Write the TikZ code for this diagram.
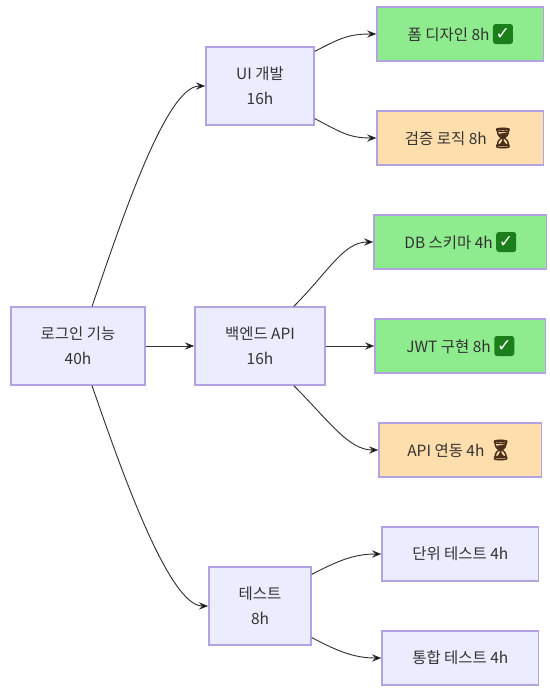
\documentclass[tikz,border=0pt]{standalone}
\usepackage{fontspec}
\setmainfont{Noto Sans CJK KR}
\newfontfamily\emojifont[FakeBold=2.5]{Noto Emoji}
\newfontfamily\checkfont{DejaVu Sans}
\usetikzlibrary{arrows.meta}
\definecolor{nodefill}{HTML}{ECECFF}
\definecolor{nodeline}{HTML}{B3A3E3}
\definecolor{donefill}{HTML}{8EEB8E}
\definecolor{waitfill}{HTML}{FFDEAD}
\definecolor{textcol}{HTML}{333333}
\definecolor{edgecol}{HTML}{333333}
\definecolor{checkgreen}{HTML}{1A7F1A}
\definecolor{sandcol}{HTML}{4A2E1A}
\newcommand{\doneicon}{\tikz[baseline=-0.8ex]\node[fill=checkgreen,rounded corners=2pt,inner sep=0pt,minimum size=15pt,text=white,font=\checkfont\fontsize{13}{13}\selectfont\bfseries]{✓};}
\newcommand{\waiticon}{\textcolor{sandcol}{\emojifont\fontsize{15}{15}\selectfont ⏳}}
\tikzset{
  x=0.75pt,y=-0.75pt,
  flowbox/.style={draw=nodeline,line width=1.2pt,fill=nodefill,text=textcol,align=center,inner sep=0pt,
    font=\fontsize{11.6}{18.2}\selectfont,anchor=center},
  donebox/.style={flowbox,fill=donefill},
  waitbox/.style={flowbox,fill=waitfill},
  link/.style={draw=edgecol,line width=0.7pt,-{Stealth[length=7pt,width=5.5pt]}}
}
\begin{document}
\begin{tikzpicture}
\useasboundingbox (0,0) rectangle (550,693);
\node[flowbox,minimum width=100.4pt,minimum height=58.2pt] (login) at (78,346) {\raisebox{1.2pt}{로그인 기능}\\\raisebox{0.6pt}{40h}};
\node[flowbox,minimum width=80.9pt,minimum height=58.2pt] (ui) at (260,86) {\raisebox{1.2pt}{UI 개발}\\\raisebox{0.6pt}{16h}};
\node[flowbox,minimum width=97.4pt,minimum height=58.2pt] (be) at (260,346) {\raisebox{1.2pt}{백엔드 API}\\\raisebox{0.6pt}{16h}};
\node[flowbox,minimum width=76.4pt,minimum height=58.2pt] (test) at (260,606) {\raisebox{1.2pt}{테스트}\\\raisebox{0.6pt}{8h}};
\node[donebox,minimum width=124.6pt,minimum height=40.2pt] (form) at (460.3,34) {폼 디자인 8h \doneicon};
\node[waitbox,minimum width=124.6pt,minimum height=40.2pt] (valid) at (460.3,138) {검증 로직 8h \waiticon};
\node[donebox,minimum width=129.2pt,minimum height=40.2pt] (db) at (460.3,242) {DB 스키마 4h \doneicon};
\node[donebox,minimum width=127.7pt,minimum height=40.2pt] (jwt) at (460.3,346) {JWT 구현 8h \doneicon};
\node[waitbox,minimum width=121.7pt,minimum height=40.2pt] (api) at (460.3,450) {API 연동 4h \waiticon};
\node[flowbox,minimum width=117.2pt,minimum height=40.2pt] (unit) at (460.3,554) {단위 테스트 4h};
\node[flowbox,minimum width=117.2pt,minimum height=40.2pt] (integ) at (460.3,658) {통합 테스트 4h};

\draw[link] ([xshift=10.5pt]login.north) .. controls +(27,-78) and +(-40,0) .. (ui.west);
\draw[link] (login.east) -- (be.west);
\draw[link] ([xshift=10.5pt]login.south) .. controls +(27,78) and +(-40,0) .. (test.west);
\draw[link] ([yshift=-3.75pt]ui.north east) .. controls +(25,-13) and +(-28,0) .. (form.west);
\draw[link] ([yshift=5.25pt]ui.south east) .. controls +(25,13) and +(-28,0) .. (valid.west);
\draw[link] ([xshift=-24pt]be.north east) .. controls +(35,-35) and +(-30,0) .. (db.west);
\draw[link] (be.east) -- (jwt.west);
\draw[link] ([xshift=-24pt]be.south east) .. controls +(35,35) and +(-30,0) .. (api.west);
\draw[link] ([yshift=-6pt]test.north east) .. controls +(25,-13) and +(-28,0) .. (unit.west);
\draw[link] ([yshift=6pt]test.south east) .. controls +(25,13) and +(-28,0) .. (integ.west);
\end{tikzpicture}
\end{document}
